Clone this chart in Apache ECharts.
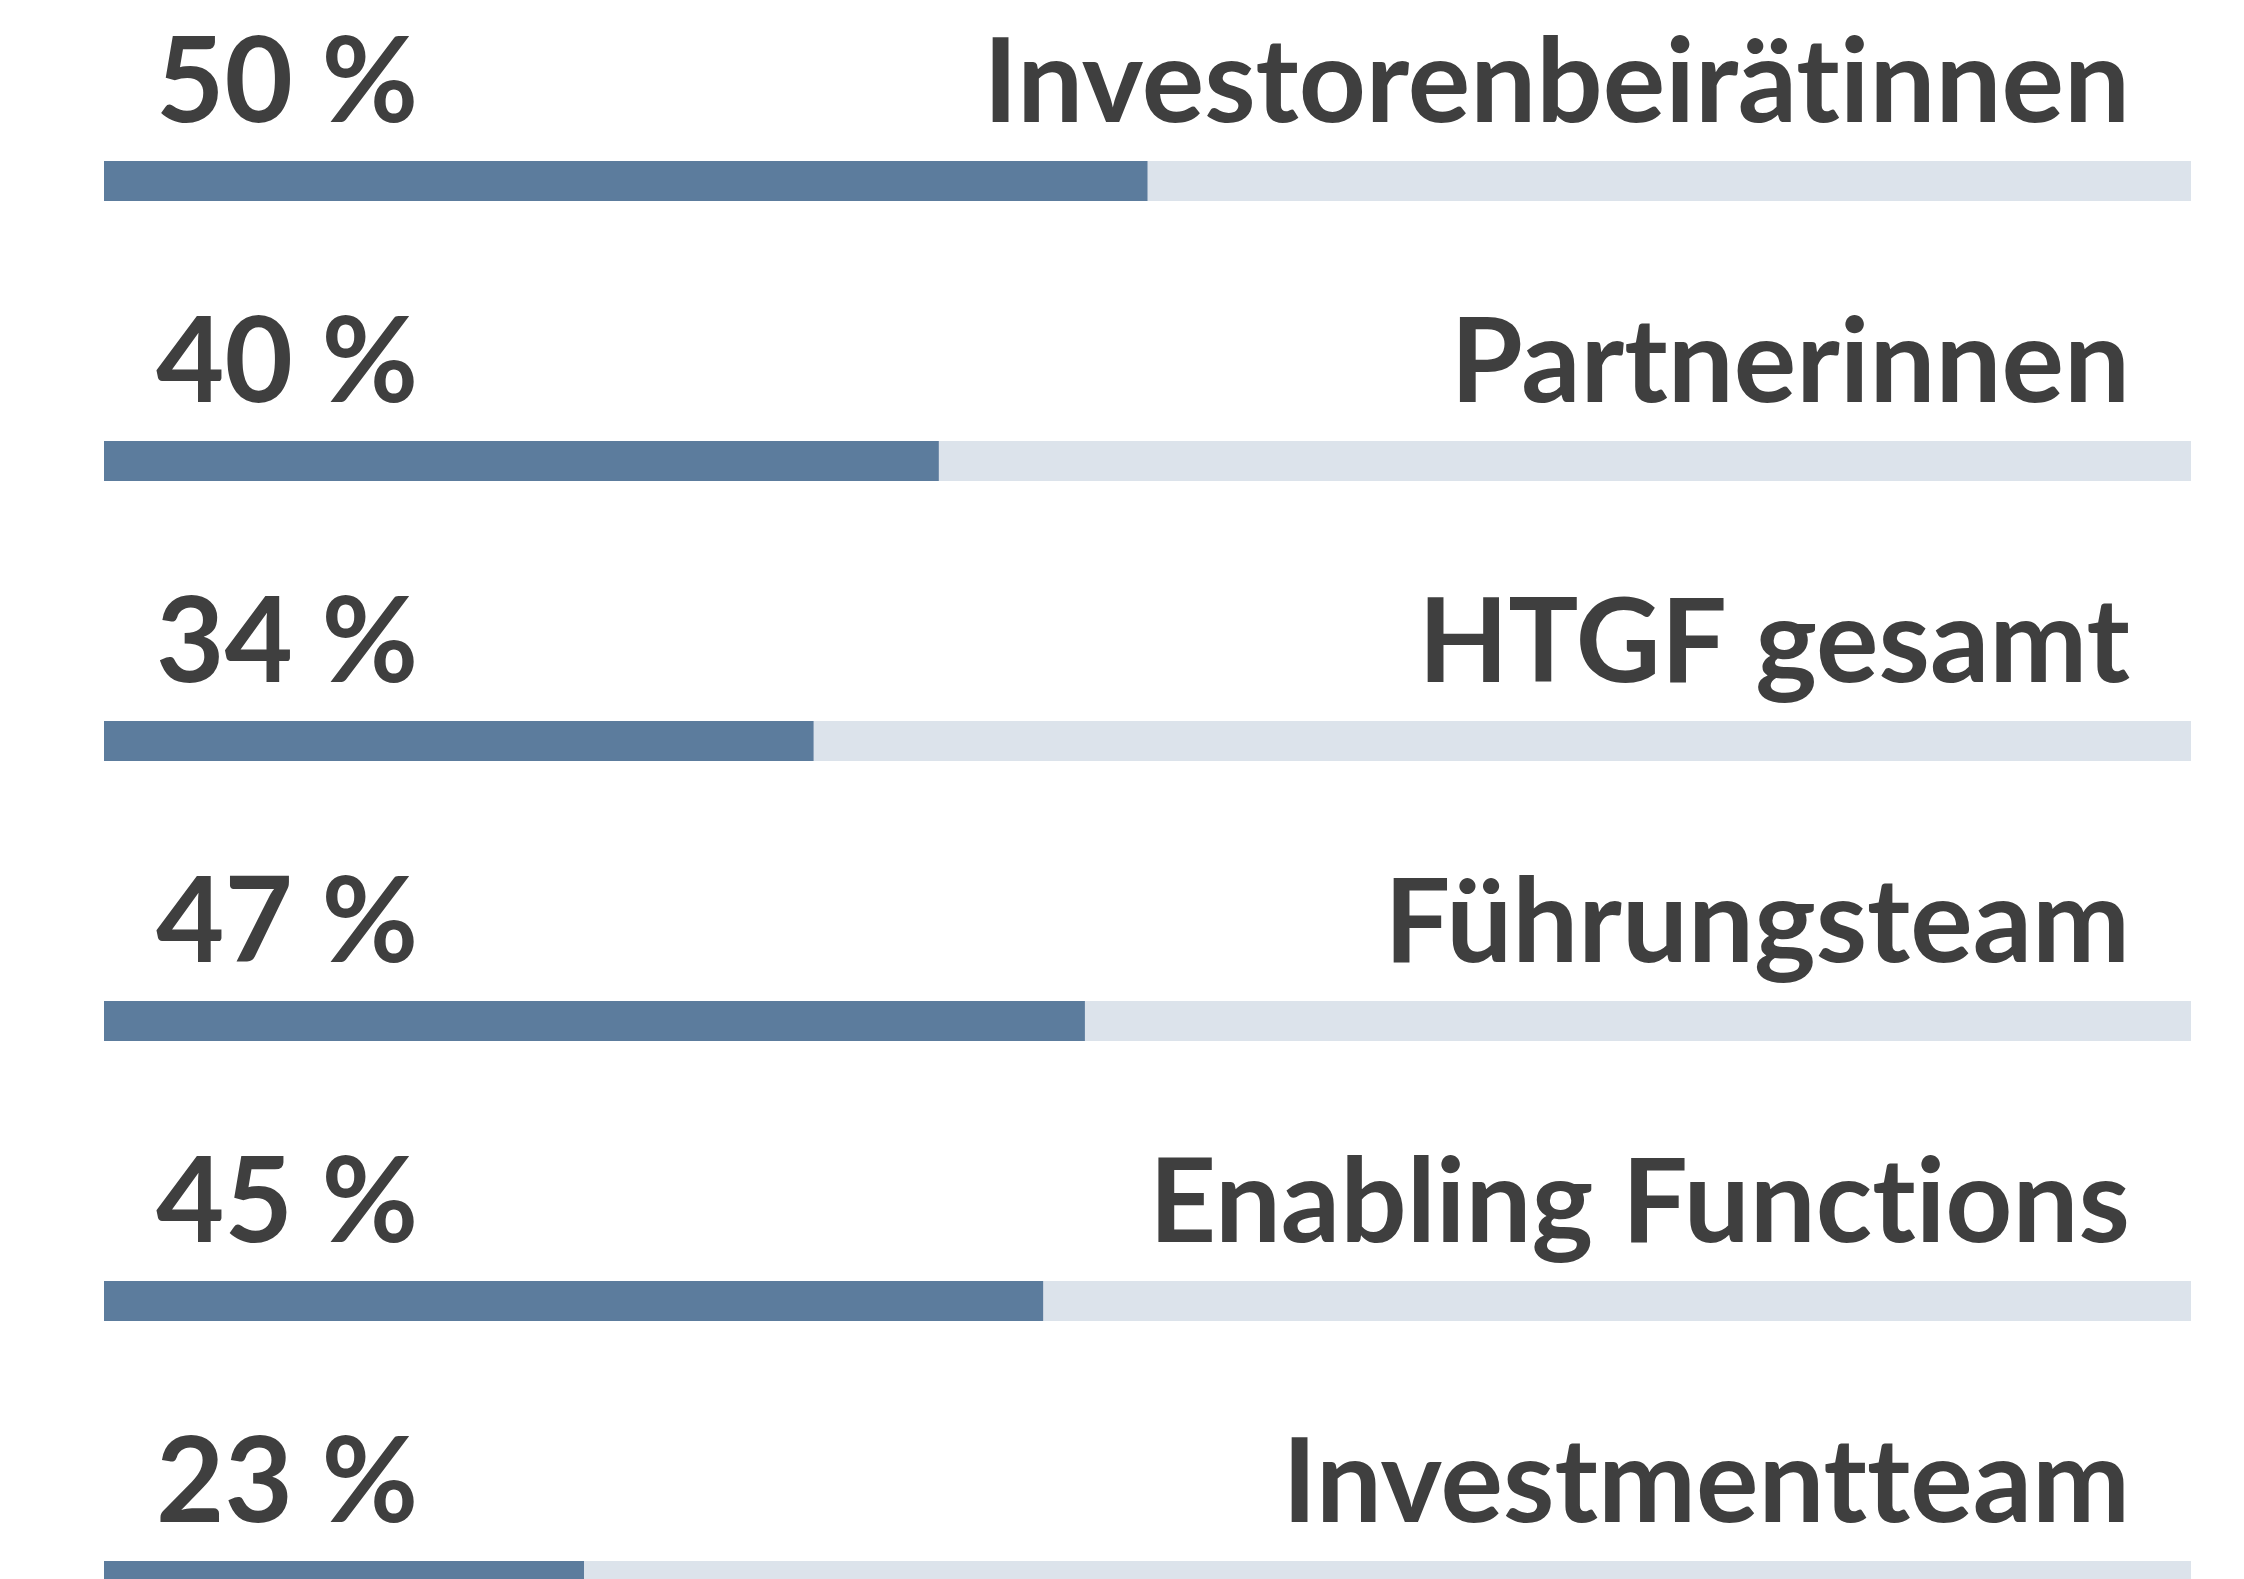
<!DOCTYPE html>
<html>
<head>
<meta charset="utf-8">
<script src="https://cdn.jsdelivr.net/npm/echarts@6/dist/echarts.min.js"></script>
<style>
  html, body { margin: 0; padding: 0; background: #ffffff; overflow: hidden; }
  /* taller than the window: the last row is cut off at the bottom edge */
  #chart { width: 2244px; height: 1760px; }
</style>
</head>
<body>
<div id="chart"></div>
<script>
// Frauenanteil je Bereich
var categories = ['Investorenbeirätinnen', 'Partnerinnen', 'HTGF gesamt', 'Führungsteam', 'Enabling Functions', 'Investmentteam'];
var shares = [50, 40, 34, 47, 45, 23];
var trackMax = 100;

var textColor = '#3f3f3f';
var labelFont = "Lato, 'Open Sans', sans-serif";

// Lato would join "ti" / "tt" into ligatures, the original does not
function noLig (s) {
  return s.replace(/t(?=[it])/g, 't\u200C');
}

var chart = echarts.init(document.getElementById('chart'));
chart.setOption({
  animation: false,
  grid: { left: 104, right: 53, top: 41, height: 1680 },
  xAxis: { type: 'value', min: 0, max: trackMax, show: false },
  yAxis: { type: 'category', data: categories, inverse: true, show: false },
  series: [
    {
      // hellgraue Spur = 100 %
      type: 'bar',
      barWidth: 40,
      silent: true,
      itemStyle: { color: '#dce3eb' },
      data: categories.map(function () { return trackMax; }),
      label: {
        show: true,
        formatter: function (p) { return noLig(p.name); },
        position: ['100%', 0],
        offset: [-61, -77],
        align: 'right',
        verticalAlign: 'middle',
        color: textColor,
        fontFamily: labelFont,
        fontWeight: 'bold',
        fontSize: 117
      }
    },
    {
      type: 'bar',
      barWidth: 40,
      barGap: '-100%',
      itemStyle: { color: '#5c7c9d' },
      data: shares,
      label: {
        show: true,
        formatter: '{c} %',
        position: [52, -77],
        align: 'left',
        verticalAlign: 'middle',
        color: textColor,
        fontFamily: labelFont,
        fontWeight: 'bold',
        fontSize: 118
      }
    }
  ]
});
</script>
</body>
</html>
